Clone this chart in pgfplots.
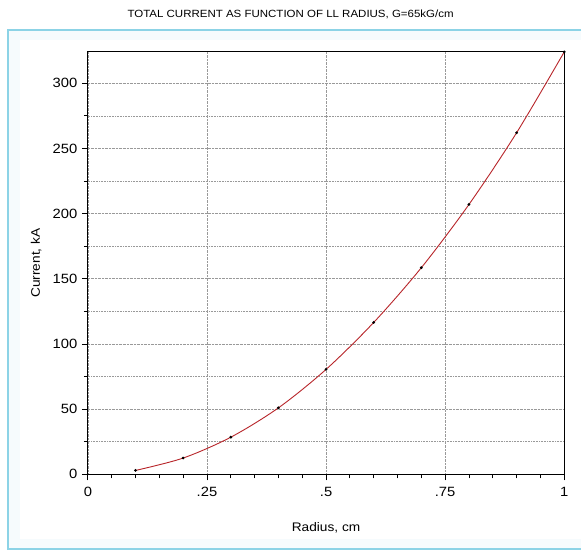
\documentclass[border=0pt]{standalone}
\usepackage{pgfplots}
\pgfplotsset{compat=1.18}
\usepackage{fontspec}
\setmainfont{Liberation Sans}[FakeStretch=1.1]
\definecolor{framecol}{HTML}{8CD3E6}
\definecolor{curvecol}{HTML}{B8252A}
\newcommand{\tickfont}{\fontsize{13.5}{15}\selectfont}
\begin{document}
\begin{tikzpicture}
\fill[white] (0bp,0bp) rectangle (582bp,-554bp);
\fill[framecol!8] (8bp,-30bp) rectangle (582bp,-550bp);
\fill[white] (20bp,-40bp) rectangle (582bp,-540bp);
\draw[framecol, line width=1.6bp] (582bp,-30bp) -- (8bp,-30bp) -- (8bp,-550bp) -- (582bp,-550bp);
\node[font=\fontsize{10.5}{12}\selectfont] at (291bp,-14bp) {TOTAL CURRENT AS FUNCTION OF LL RADIUS, G=65kG/cm};
\begin{axis}[
  at={(88bp,-475bp)}, anchor=south west,
  width=477bp, height=423bp, scale only axis,
  xmin=0, xmax=1, ymin=0, ymax=324,
  xtick={0,0.25,0.5,0.75,1},
  xticklabels={0,.25,.5,.75,1},
  yticklabels={0,50,100,150,200,250,300},
  minor xtick={0.05,0.1,0.15,0.2,0.3,0.35,0.4,0.45,0.55,0.6,0.65,0.7,0.8,0.85,0.9,0.95},
  ytick={0,50,100,150,200,250,300},
  minor ytick={25,75,125,175,225,275},
  tick align=outside,
  major tick length=6bp, minor tick length=4bp,
  xtick pos=bottom, ytick pos=left,
  every tick/.style={black, line width=0.8bp},
  xmajorgrids, ymajorgrids, yminorgrids, xminorgrids=false,
  grid style={densely dotted, gray!80, line width=0.6bp},
  minor grid style={densely dotted, gray!80, line width=0.6bp},
  axis line style={black, line width=1bp},
  xticklabel style={font=\tickfont, yshift=-3bp},
  yticklabel style={font=\tickfont, xshift=-1bp},
  xlabel={Radius, cm}, ylabel={Current, kA},
  label style={font=\fontsize{12.5}{14}\selectfont},
  xlabel style={at={(0.5,0)}, anchor=north, yshift=-45bp},
  ylabel style={at={(0,0.5)}, anchor=south, yshift=43bp},
  clip=false,
]
\addplot[curvecol, line width=0.9bp, smooth, mark=*, mark size=0.9bp,
  mark options={black, fill=black}] coordinates {
  (0.1,3) (0.2,12.5) (0.3,28.5) (0.4,51) (0.5,80.5) (0.6,116.5)
  (0.7,158.5) (0.8,207) (0.9,262) (1.0,324)
};
\end{axis}
\end{tikzpicture}
\end{document}
